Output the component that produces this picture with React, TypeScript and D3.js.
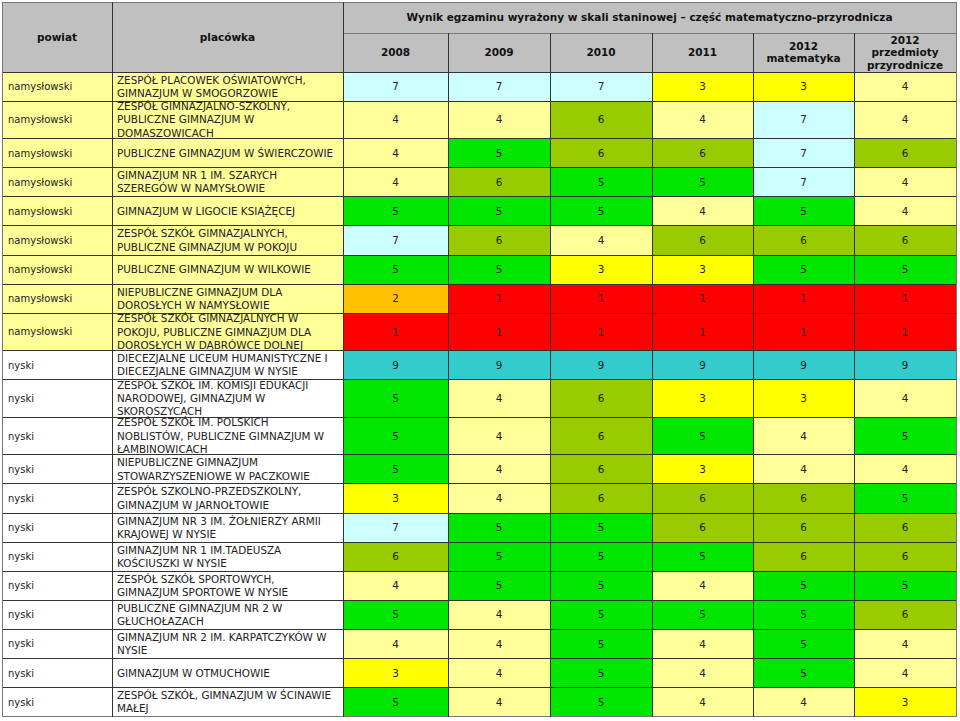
import React from "react";
import * as d3 from "d3";

const powiaty = [
  "namysłowski", "namysłowski", "namysłowski", "namysłowski", "namysłowski",
  "namysłowski", "namysłowski", "namysłowski", "namysłowski",
  "nyski", "nyski", "nyski", "nyski", "nyski", "nyski", "nyski",
  "nyski", "nyski", "nyski", "nyski", "nyski",
];

const placowki = [
  ["ZESPÓŁ PLACOWEK OŚWIATOWYCH,", "GIMNAZJUM W SMOGORZOWIE"],
  ["ZESPÓŁ GIMNAZJALNO-SZKOLNY,", "PUBLICZNE GIMNAZJUM W", "DOMASZOWICACH"],
  ["PUBLICZNE GIMNAZJUM W ŚWIERCZOWIE"],
  ["GIMNAZJUM NR 1 IM. SZARYCH", "SZEREGÓW W NAMYSŁOWIE"],
  ["GIMNAZJUM W LIGOCIE KSIĄŻĘCEJ"],
  ["ZESPÓŁ SZKÓŁ GIMNAZJALNYCH,", "PUBLICZNE GIMNAZJUM W POKOJU"],
  ["PUBLICZNE GIMNAZJUM W WILKOWIE"],
  ["NIEPUBLICZNE GIMNAZJUM DLA", "DOROSŁYCH W NAMYSŁOWIE"],
  ["ZESPÓŁ SZKÓŁ GIMNAZJALNYCH W", "POKOJU, PUBLICZNE GIMNAZJUM DLA", "DOROSŁYCH W DĄBRÓWCE DOLNEJ"],
  ["DIECEZJALNE LICEUM HUMANISTYCZNE I", "DIECEZJALNE GIMNAZJUM W NYSIE"],
  ["ZESPÓŁ SZKÓŁ IM. KOMISJI EDUKACJI", "NARODOWEJ, GIMNAZJUM W", "SKOROSZYCACH"],
  ["ZESPÓŁ SZKÓŁ IM. POLSKICH", "NOBLISTÓW, PUBLICZNE GIMNAZJUM W", "ŁAMBINOWICACH"],
  ["NIEPUBLICZNE GIMNAZJUM", "STOWARZYSZENIOWE W PACZKOWIE"],
  ["ZESPÓŁ SZKOLNO-PRZEDSZKOLNY,", "GIMNAZJUM W JARNOŁTOWIE"],
  ["GIMNAZJUM NR 3 IM. ŻOŁNIERZY ARMII", "KRAJOWEJ W NYSIE"],
  ["GIMNAZJUM NR 1 IM.TADEUSZA", "KOŚCIUSZKI W NYSIE"],
  ["ZESPÓŁ SZKÓŁ SPORTOWYCH,", "GIMNAZJUM SPORTOWE W NYSIE"],
  ["PUBLICZNE GIMNAZJUM NR 2 W", "GŁUCHOŁAZACH"],
  ["GIMNAZJUM NR 2 IM. KARPATCZYKÓW W", "NYSIE"],
  ["GIMNAZJUM W OTMUCHOWIE"],
  ["ZESPÓŁ SZKÓŁ, GIMNAZJUM W ŚCINAWIE", "MAŁEJ"],
];

const kolumny = [
  ["2008"],
  ["2009"],
  ["2010"],
  ["2011"],
  ["2012", "matematyka"],
  ["2012", "przedmioty", "przyrodnicze"],
];

const wyniki2008 = [7, 4, 4, 4, 5, 7, 5, 2, 1, 9, 5, 5, 5, 3, 7, 6, 4, 5, 4, 3, 5];
const wyniki2009 = [7, 4, 5, 6, 5, 6, 5, 1, 1, 9, 4, 4, 4, 4, 5, 5, 5, 4, 4, 4, 4];
const wyniki2010 = [7, 6, 6, 5, 5, 4, 3, 1, 1, 9, 6, 6, 6, 6, 5, 5, 5, 5, 5, 5, 5];
const wyniki2011 = [3, 4, 6, 5, 4, 6, 3, 1, 1, 9, 3, 5, 3, 6, 6, 5, 4, 5, 4, 4, 4];
const wyniki2012mat = [3, 7, 7, 7, 5, 6, 5, 1, 1, 9, 3, 4, 4, 6, 6, 6, 5, 5, 5, 5, 4];
const wyniki2012prz = [4, 4, 6, 4, 4, 6, 5, 1, 1, 9, 4, 5, 4, 5, 6, 6, 5, 6, 4, 4, 3];

const staniny = [1, 2, 3, 4, 5, 6, 7, 9];
const kolory = ["#ff0000", "#ffc000", "#ffff00", "#ffff99", "#00e600", "#99cc00", "#ccffff", "#33cccc"];

const FONT = "'DejaVu Sans', Verdana, sans-serif";

export default function App() {
  const wyniki = [wyniki2008, wyniki2009, wyniki2010, wyniki2011, wyniki2012mat, wyniki2012prz];
  const color = d3.scaleOrdinal<number, string>().domain(staniny).range(kolory);
  const powiatColor = d3.scaleOrdinal<string, string>().domain(["namysłowski", "nyski"]).range(["#ffff99", "#ffffff"]);

  // column edges
  const colW = [110, 231, 105, 102, 102, 101, 101, 102];
  const x0 = 2;
  const xs = [x0, ...Array.from(d3.cumsum(colW)).map((v) => x0 + v)];

  // row edges, 3-line rows are taller
  const headTop = 2, head1 = 33, headBottom = 72;
  const rowH = placowki.map((l) => (l.length > 2 ? 37.5 : 29.1));
  const ys = [headBottom, ...Array.from(d3.cumsum(rowH)).map((v) => headBottom + v)];
  const lineH = 13.2;

  const stroke = "#333";

  return (
    <div style={{ position: "absolute", left: 0, top: 0 }}>
      <svg width={960} height={721} style={{ display: "block", background: "#fff" }}>
        {/* header */}
        <rect x={xs[0]} y={headTop} width={xs[8] - xs[0]} height={headBottom - headTop} fill="#c0c0c0" />
        <g fontFamily={FONT} fontWeight="bold" fontSize={10.5} fill="#111" textAnchor="middle">
          <text x={(xs[0] + xs[1]) / 2} y={(headTop + headBottom) / 2} dy="0.35em">powiat</text>
          <text x={(xs[1] + xs[2]) / 2} y={(headTop + headBottom) / 2} dy="0.35em">placówka</text>
          <text x={(xs[2] + xs[8]) / 2} y={(headTop + head1) / 2} dy="0.35em">
            Wynik egzaminu wyrażony w skali staninowej – część matematyczno-przyrodnicza
          </text>
          {kolumny.map((lines, j) => {
            const cx = (xs[j + 2] + xs[j + 3]) / 2;
            const cy = (head1 + headBottom) / 2;
            const lh = 12.5;
            return (
              <text key={j} x={cx} y={cy - ((lines.length - 1) * lh) / 2}>
                {lines.map((t, k) => (
                  <tspan key={k} x={cx} dy={k === 0 ? "0.35em" : lh}>{t}</tspan>
                ))}
              </text>
            );
          })}
        </g>

        {/* body cells */}
        {placowki.map((lines, i) => {
          const y = ys[i];
          const h = ys[i + 1] - ys[i];
          const cy = y + h / 2;
          return (
            <g key={i} fontFamily={FONT} fontSize={10.4} fill="#222">
              <rect x={xs[0]} y={y} width={xs[2] - xs[0]} height={h} fill={powiatColor(powiaty[i])} />
              {wyniki.map((col, j) => (
                <rect key={j} x={xs[j + 2]} y={y} width={xs[j + 3] - xs[j + 2]} height={h} fill={color(col[i])} />
              ))}
              <text x={xs[0] + 6} y={cy} dy="0.35em" fontSize={10}>{powiaty[i]}</text>
              <text x={xs[1] + 5} y={cy - ((lines.length - 1) * lineH) / 2}>
                {lines.map((t, k) => (
                  <tspan key={k} x={xs[1] + 5} dy={k === 0 ? "0.35em" : lineH}>{t}</tspan>
                ))}
              </text>
              {wyniki.map((col, j) => (
                <text key={"v" + j} x={(xs[j + 2] + xs[j + 3]) / 2} y={cy} dy="0.35em" textAnchor="middle">
                  {col[i]}
                </text>
              ))}
            </g>
          );
        })}

        {/* grid lines */}
        <g stroke={stroke} strokeWidth={1} shapeRendering="crispEdges">
          <line x1={xs[0]} x2={xs[8]} y1={headTop} y2={headTop} stroke="#777" />
          <line x1={xs[2]} x2={xs[8]} y1={head1} y2={head1} stroke="#777" />
          {ys.map((y, i) => (
            <line key={"h" + i} x1={xs[0]} x2={xs[8]} y1={y} y2={y} stroke={i === ys.length - 1 ? "#777" : stroke} />
          ))}
          {xs.map((x, j) => (
            <line
              key={"v" + j}
              x1={x}
              x2={x}
              y1={j >= 3 && j <= 7 ? head1 : headTop}
              y2={ys[ys.length - 1]}
              stroke={j === 0 || j === 8 ? "#777" : stroke}
            />
          ))}
        </g>
      </svg>
    </div>
  );
}
